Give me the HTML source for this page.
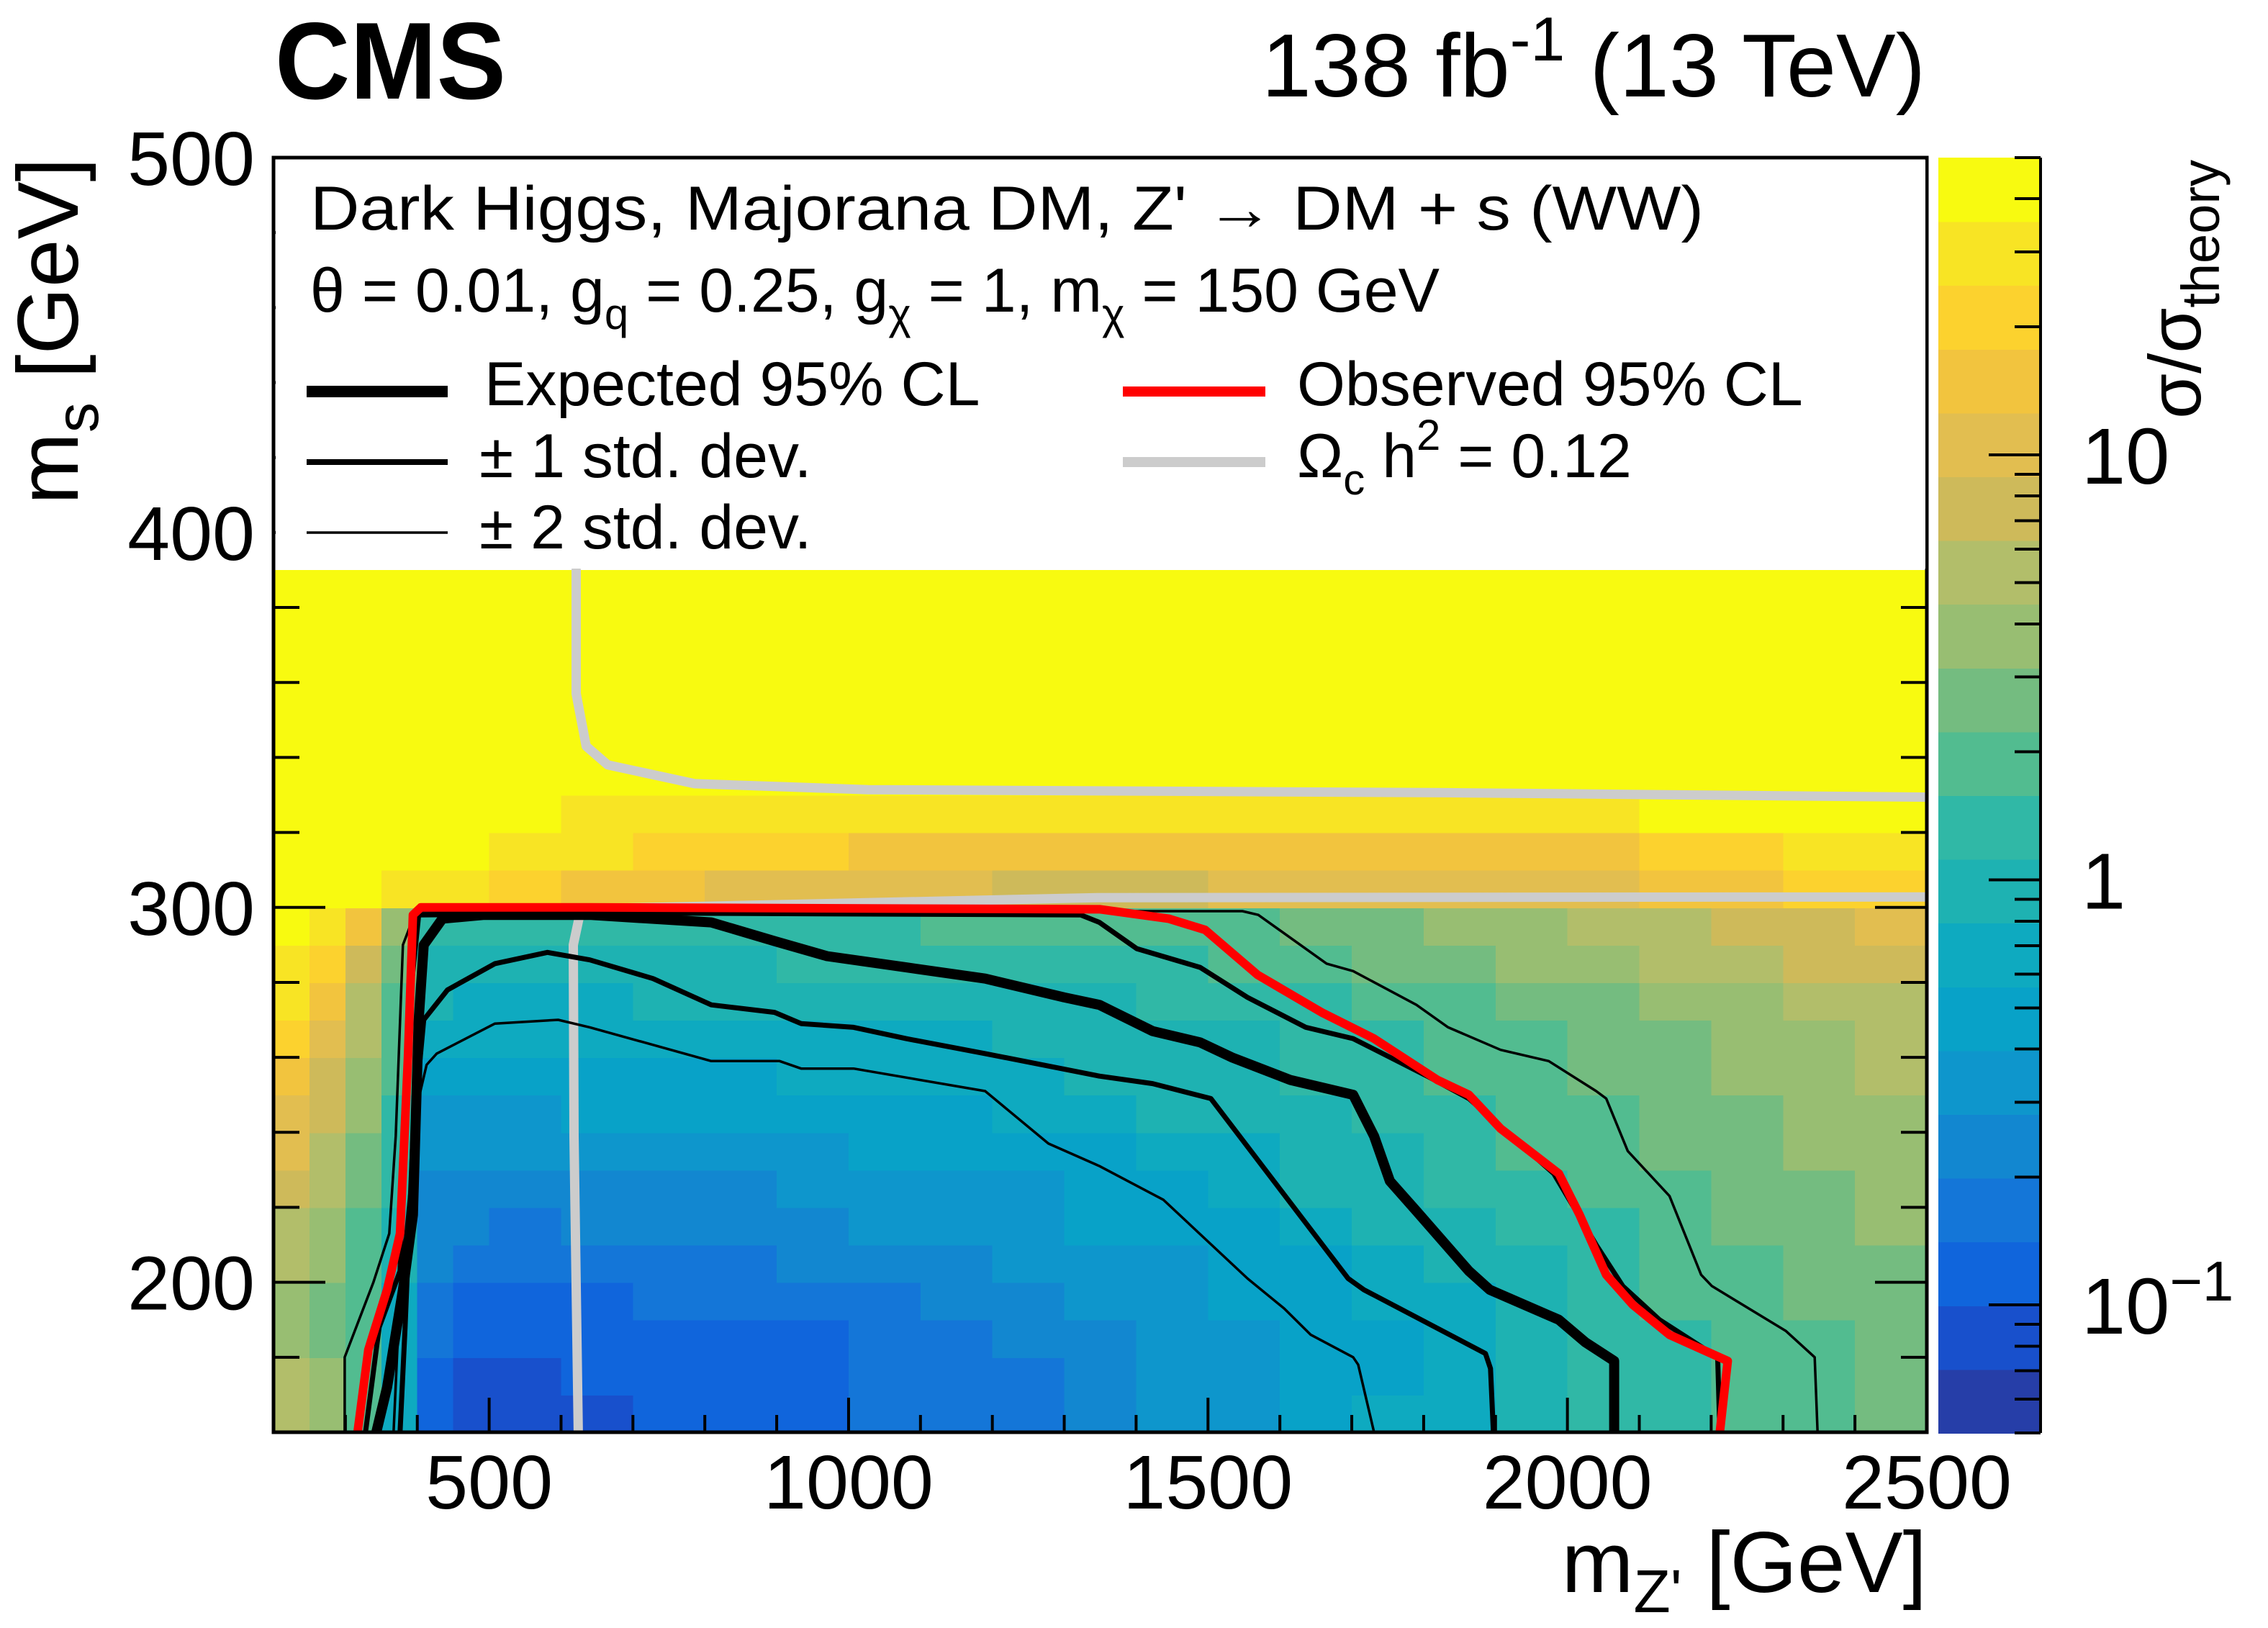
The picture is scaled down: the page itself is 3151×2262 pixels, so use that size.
<!DOCTYPE html>
<html><head><meta charset="utf-8"><title>CMS Dark Higgs limits</title>
<style>
html,body{margin:0;padding:0;background:#fff;}
svg{display:block;font-family:"Liberation Sans",Arial,sans-serif;}
</style></head>
<body>
<svg id="chart" xmlns="http://www.w3.org/2000/svg" width="3151" height="2262" viewBox="0 0 3151 2262">
<defs><clipPath id="plotclip"><rect x="380" y="219" width="2297" height="1771"/></clipPath></defs>
<rect x="0" y="0" width="3151" height="2262" fill="#fff"/>
<g id="heatmap" clip-path="url(#plotclip)" shape-rendering="crispEdges"></g>
<g id="contours" clip-path="url(#plotclip)" fill="none" stroke-linejoin="round" stroke-linecap="round"></g>
<g id="axes"></g>
<g id="colorbar" shape-rendering="crispEdges"></g>

<rect x="383" y="222" width="2292" height="568" fill="#fff"/>
<g font-size="86">
  <text x="431" y="319" textLength="1936" lengthAdjust="spacingAndGlyphs">Dark Higgs, Majorana DM, Z' → DM + s (WW)</text>
  <text x="431" y="433">θ = 0.01, g<tspan font-size="60" dy="24">q</tspan><tspan dy="-24"> = 0.25, g</tspan><tspan font-size="60" dy="24">χ</tspan><tspan dy="-24"> = 1, m</tspan><tspan font-size="60" dy="24">χ</tspan><tspan dy="-24"> = 150 GeV</tspan></text>
  <line x1="426" y1="544" x2="622" y2="544" stroke="#000" stroke-width="16"/>
  <text x="673" y="563">Expected 95% CL</text>
  <line x1="426" y1="642" x2="622" y2="642" stroke="#000" stroke-width="8"/>
  <text x="666" y="663">± 1 std. dev.</text>
  <line x1="426" y1="740" x2="622" y2="740" stroke="#000" stroke-width="3.5"/>
  <text x="666" y="762">± 2 std. dev.</text>
  <line x1="1560" y1="544" x2="1758" y2="544" stroke="#ff0000" stroke-width="14"/>
  <text x="1802" y="563">Observed 95% CL</text>
  <line x1="1560" y1="642" x2="1758" y2="642" stroke="#cccccc" stroke-width="14"/>
  <text x="1802" y="663">Ω<tspan font-size="60" dy="24">c</tspan><tspan dy="-24"> h</tspan><tspan font-size="60" dy="-38">2</tspan><tspan dy="38"> = 0.12</tspan></text>
</g>

<text x="382" y="137" font-size="152" font-weight="bold" textLength="321" lengthAdjust="spacingAndGlyphs">CMS</text>
<text x="2675" y="134" font-size="124" text-anchor="end">138 fb<tspan font-size="86" dy="-50">-1</tspan><tspan dy="50"> (13 TeV)</tspan></text>
<text x="2677" y="2212" font-size="120" text-anchor="end">m<tspan font-size="84" dy="28">Z'</tspan><tspan dy="-28"> [GeV]</tspan></text>
<text transform="translate(108,219) rotate(-90)" x="0" y="0" font-size="120" text-anchor="end">m<tspan font-size="84" dy="28">s</tspan><tspan dy="-28"> [GeV]</tspan></text>
<text transform="translate(3057,222) rotate(-90)" x="0" y="0" font-size="102" text-anchor="end">σ/σ<tspan font-size="74" dy="26">theory</tspan></text>
</svg>
<script>
// ---------- data ----------
const xEdges = [200,250,300,350,400,450,500,600,700,800,900,1000,1100,1200,1300,1400,1500,1600,1700,1800,1900,2000,2100,2200,2300,2400,2500];
const yEdges = [160,170,180,190,200,210,220,230,240,250,260,270,280,290,300,310,320,330,340,350,360,370,380,390];
const z165 = [5.3,3.8,1.9,0.67,0.12,0.084,0.084,0.084,0.12,0.12,0.12,0.17,0.17,0.17,0.24,0.34,0.34,0.47,0.67,0.67,0.94,1.3,1.3,1.9,1.9,2.7];
const z175 = [5.3,3.8,1.9,0.67,0.12,0.084,0.084,0.12,0.12,0.12,0.12,0.17,0.17,0.17,0.24,0.34,0.34,0.47,0.47,0.67,0.94,1.3,1.3,1.9,1.9,2.7];
const z185 = [3.8,2.7,1.9,0.67,0.17,0.12,0.12,0.12,0.12,0.12,0.12,0.17,0.17,0.24,0.24,0.34,0.34,0.47,0.47,0.67,0.94,1.3,1.3,1.9,1.9,2.7];
const z195 = [3.8,2.7,1.9,0.67,0.17,0.12,0.12,0.12,0.17,0.17,0.17,0.17,0.24,0.24,0.34,0.34,0.47,0.47,0.67,0.67,0.94,1.3,1.9,1.9,2.7,2.7];
const z205 = [5.3,3.8,1.9,0.94,0.24,0.17,0.17,0.17,0.17,0.17,0.24,0.24,0.24,0.34,0.34,0.34,0.47,0.47,0.67,0.94,0.94,1.3,1.9,1.9,2.7,2.7];
const z215 = [5.3,3.8,1.9,0.94,0.24,0.24,0.17,0.24,0.24,0.24,0.24,0.34,0.34,0.34,0.47,0.47,0.47,0.67,0.94,0.94,1.3,1.3,1.9,2.7,2.7,3.8];
const z225 = [7.5,5.3,2.7,1.3,0.24,0.24,0.24,0.24,0.24,0.24,0.34,0.34,0.34,0.34,0.47,0.47,0.67,0.94,0.94,1.3,1.3,1.9,1.9,2.7,2.7,3.8];
const z235 = [11,5.3,2.7,1.3,0.34,0.34,0.34,0.34,0.34,0.34,0.34,0.47,0.47,0.47,0.47,0.67,0.67,0.94,0.94,1.3,1.9,1.9,2.7,2.7,3.8,3.8];
const z245 = [11,7.5,3.8,1.3,0.34,0.34,0.34,0.47,0.47,0.47,0.47,0.47,0.47,0.67,0.67,0.94,0.94,0.94,1.3,1.3,1.9,1.9,2.7,2.7,3.8,3.8];
const z255 = [15,7.5,3.8,1.9,0.47,0.47,0.47,0.47,0.47,0.47,0.67,0.67,0.67,0.67,0.94,0.94,0.94,1.3,1.3,1.9,1.9,2.7,2.7,3.8,3.8,5.3];
const z265 = [21,11,5.3,1.9,0.67,0.67,0.67,0.67,0.67,0.67,0.67,0.67,0.67,0.94,0.94,0.94,0.94,1.3,1.3,1.9,1.9,2.7,2.7,3.8,3.8,5.3];
const z275 = [30,15,5.3,1.9,0.94,0.67,0.67,0.67,0.94,0.94,0.94,0.94,0.94,0.94,0.94,1.3,1.3,1.3,1.9,1.9,2.7,2.7,3.8,3.8,5.3,5.3];
const z285 = [30,21,7.5,2.7,0.94,0.94,0.94,0.94,0.94,0.94,1.3,1.3,1.3,1.3,1.3,1.3,1.9,1.9,2.7,2.7,3.8,3.8,5.3,5.3,7.5,7.5];
const z295 = [45,30,15,3.8,1.3,1.3,1.3,1.3,1.3,1.3,1.3,1.3,1.9,1.9,1.9,1.9,1.9,2.7,2.7,3.8,3.8,5.3,5.3,7.5,7.5,11];
const z305 = [45,45,45,30,30,30,21,15,15,11,11,11,11,7.5,7.5,7.5,11,11,11,11,11,11,15,15,21,21];
const z315 = [45,45,45,45,45,45,30,30,21,21,21,15,15,15,15,15,15,15,15,15,15,15,21,21,30,30];
const z325 = [45,45,45,45,45,45,45,30,30,30,30,30,30,30,30,30,30,30,30,30,30,30,45,45,45,45];
const z335 = [45,45,45,45,45,45,45,45,45,45,45,45,45,45,45,45,45,45,45,45,45,45,45,45,45,45];
const z345 = z335, z355 = z335, z365 = z335, z375 = z335, z385 = z335;
const zRows = [z165,z175,z185,z195,z205,z215,z225,z235,z245,z255,z265,z275,z285,z295,z305,z315,z325,z335,z345,z355,z365,z375,z385];

const expected = [[343,160],[358,172],[380,198],[394,218],[402,270],[409,290],[435,297],[493,298],[640,298],[809,296],[897,291],[970,287],[1080,284],[1190,281],[1300,276],[1349,274],[1423,267],[1489,264],[1533,260],[1614,254],[1702,250],[1731,239],[1753,227],[1790,219],[1863,203],[1892,198],[1988,190],[2025,184],[2065,179],[2065,160]];
const observed = [[317,160],[332,182],[358,198],[376,213],[387,260],[394,298],[405,300],[640,300],[1350,299.5],[1445,297],[1496,294],[1569,282],[1658,272],[1731,265],[1819,254],[1863,250],[1907,241],[1988,229],[2017,218],[2054,202],[2091,194],[2142,186],[2223,179],[2212,160]];
const plus1 = [[328,160],[347,188],[376,203],[387,270],[402,298],[700,298.5],[1323,298],[1349,296],[1401,289],[1489,284],[1555,276],[1636,268],[1702,265],[1805,255],[1863,249],[1922,239],[1981,229],[2040,210],[2077,199],[2128,190],[2209,180],[2212,160]];
const minus1 = [[376,160],[383,188],[394,239],[409,270],[442,278],[508,285],[581,288],[640,286],[728,281],[809,274],[897,272],[934,269],[1007,268],[1080,265],[1190,261],[1349,255],[1423,253],[1504,249],[1695,201],[1717,198],[1886,181],[1893,177],[1897,160]];
const plus2 = [[299,160],[299,180],[339,200],[361,213],[370,239],[380,290],[398,299],[1548,299],[1570,298],[1665,285],[1702,283],[1790,274],[1834,268],[1907,262],[1974,259],[2040,251],[2054,249],[2084,235],[2142,223],[2186,202],[2201,199],[2304,187],[2344,180],[2348,160]];
const minus2 = [[367,160],[376,198],[402,249],[413,258],[427,261],[508,269],[596,270],[640,268],[809,259],[904,259],[934,257],[1007,257],[1190,251],[1278,237],[1349,231],[1438,222],[1555,201],[1606,193],[1643,186],[1702,180],[1709,178],[1731,160]];
const relicLow = [[624,160],[618,239],[617,290],[626,298],[655,299.7],[1350,302.6],[2500,302.8]];
const relicHigh = [[621,390],[621,357],[635,343],[665,338],[786,333],[1027,331.4],[1832,330.6],[2500,329.4]];

const xTicksMajor = [500,1000,1500,2000,2500];
const yTicksMajor = [200,300,400,500];
const zTickLabels = [[10,"10"],[1,"1"],[0.1,"10"]];
const levelColors = ["#263ea8","#1850cc","#1065dc","#1476d8","#1287d0","#0e96cc","#08a2c8","#0eaac0","#1eb2b2","#30b8a6","#52bc90","#74bc80","#98be72","#b2be6a","#ceba5a","#e2be50","#f2c43e","#fcd22e","#f8e424","#f8fa10"];

const X0=380, X1=2677, Y0=1990, Y1=219;
const XMIN=200, XMAX=2500, YMIN=160, YMAX=500;
function sx(v){return X0+(v-XMIN)/(XMAX-XMIN)*(X1-X0);}
function sy(v){return Y0-(v-YMIN)/(YMAX-YMIN)*(Y0-Y1);}
const ZMIN=0.05, ZMAX=50, CB_T=219, CB_B=1991, CB_L=2693, CB_R=2835;
function sz(v){return CB_B-(Math.log10(v)-Math.log10(ZMIN))/(Math.log10(ZMAX)-Math.log10(ZMIN))*(CB_B-CB_T);}
function colorFor(z){
  let t=(Math.log10(z)-Math.log10(ZMIN))/(Math.log10(ZMAX)-Math.log10(ZMIN));
  let i=Math.floor(t*20); if(i<0)i=0; if(i>19)i=19; return levelColors[i];
}
const NS="http://www.w3.org/2000/svg";
function mk(tag,attrs,parent){const e=document.createElementNS(NS,tag);for(const k in attrs)e.setAttribute(k,attrs[k]);parent.appendChild(e);return e;}

const hm=document.getElementById('heatmap');
for(let r=0;r<zRows.length;r++){
  for(let c=0;c<xEdges.length-1;c++){
    const x=sx(xEdges[c]), x2=sx(xEdges[c+1]), y=sy(yEdges[r+1]), y2=sy(yEdges[r]);
    const cell=mk('rect',{x:x.toFixed(1),y:y.toFixed(1),width:(x2-x+1).toFixed(1),height:(y2-y+1).toFixed(1),fill:colorFor(zRows[r][c])},hm);
    
    
  }
}

const cg=document.getElementById('contours');
function drawLine(pts,color,w,name){
  const d=pts.map((p,i)=>(i?'L':'M')+sx(p[0]).toFixed(1)+','+sy(p[1]).toFixed(1)).join(' ');
  const p=mk('path',{d:d,stroke:color,'stroke-width':w},cg);
  
  
}
drawLine(relicLow,'#cccccc',13,'relic-density-line-lower');
drawLine(relicHigh,'#cccccc',13,'relic-density-line-upper');
drawLine(plus2,'#000',3.5,'plus-2-sigma-contour');
drawLine(minus2,'#000',3.5,'minus-2-sigma-contour');
drawLine(plus1,'#000',7,'plus-1-sigma-contour');
drawLine(minus1,'#000',7,'minus-1-sigma-contour');
drawLine(expected,'#000',14,'expected-contour');
drawLine(observed,'#ff0000',12,'observed-contour');

const ax=document.getElementById('axes');
for(let v=200;v<=2500;v+=100){
  const major=xTicksMajor.indexOf(v)>=0;
  const t=mk('line',{x1:sx(v),y1:Y0,x2:sx(v),y2:Y0-(major?48:24),stroke:'#000','stroke-width':4},ax);
  
  
}
for(let v=160;v<=500;v+=20){
  const major=yTicksMajor.indexOf(v)>=0;
  const l=major?72:36;
  const t=mk('line',{x1:X0,y1:sy(v),x2:X0+l,y2:sy(v),stroke:'#000','stroke-width':4},ax);
  
  
  const t2=mk('line',{x1:X1,y1:sy(v),x2:X1-l,y2:sy(v),stroke:'#000','stroke-width':4},ax);
  
  
}
for(const v of xTicksMajor){
  const t=mk('text',{x:sx(v),y:2096,'font-size':106,'text-anchor':'middle'},ax);
  t.textContent=String(v);
  
  
}
for(const v of yTicksMajor){
  const t=mk('text',{x:354,y:sy(v)+38,'font-size':106,'text-anchor':'end'},ax);
  t.textContent=String(v);
  
  
}
const frame=mk('rect',{x:X0,y:Y1,width:X1-X0,height:Y0-Y1,fill:'none',stroke:'#000','stroke-width':5},ax);



const cb=document.getElementById('colorbar');
for(let i=0;i<20;i++){
  const zlo=ZMIN*Math.pow(ZMAX/ZMIN,i/20), zhi=ZMIN*Math.pow(ZMAX/ZMIN,(i+1)/20);
  const y=sz(zhi), y2=sz(zlo);
  const b=mk('rect',{x:CB_L,y:y.toFixed(1),width:CB_R-CB_L,height:(y2-y+1).toFixed(1),fill:levelColors[i]},cb);
  
  
}
const cbAxis=mk('line',{x1:CB_R,y1:CB_T,x2:CB_R,y2:CB_B,stroke:'#000','stroke-width':4},cb);


for(const dec of [0.01,0.1,1,10]){
  for(let m=1;m<=9;m++){
    const v=dec*m; if(v<ZMIN-1e-9||v>ZMAX+1e-9) continue;
    const major=(m===1);
    const t=mk('line',{x1:CB_R,y1:sz(v),x2:CB_R-(major?72:36),y2:sz(v),stroke:'#000','stroke-width':4},cb);
    
    
  }
}
for(const [v,lab] of zTickLabels){
  const t=mk('text',{x:2892,y:sz(v)+40,'font-size':110},cb);
  t.textContent=lab;
  if(v<1){const s=mk('tspan',{'font-size':78,dy:-46},t);s.textContent='−1';}
  
  
}
</script>
</body></html>
